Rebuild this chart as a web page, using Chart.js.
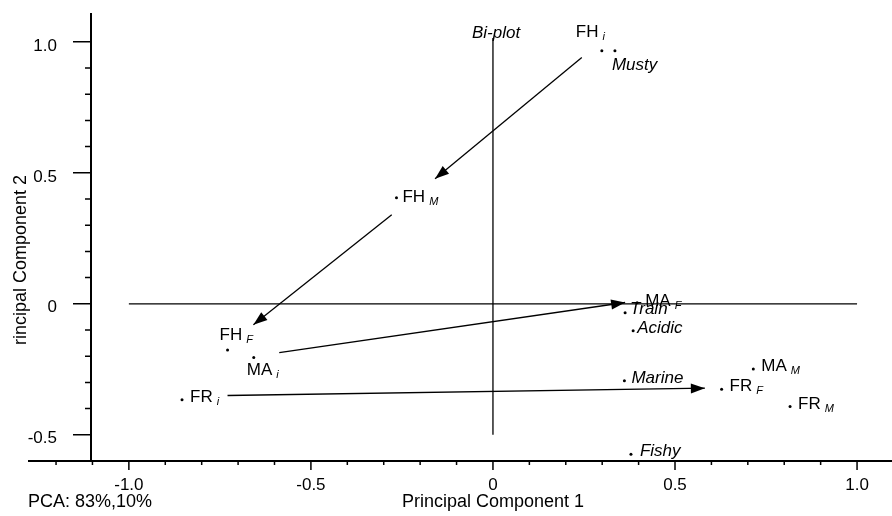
<!DOCTYPE html>
<html>
<head>
<meta charset="utf-8">
<script src="https://cdn.jsdelivr.net/npm/chart.js@4.4.1/dist/chart.umd.min.js"></script>
<style>
  body { margin: 0; background: #fff; }
</style>
</head>
<body>
<canvas id="biplot" width="892" height="516"></canvas>
<script>
// samples (with subscript) and attributes (italic) on PC1 / PC2
const pointNames = ['FH', 'Musty', 'FH', 'FH', 'MA', 'FR', 'MA', 'Train', 'Acidic', 'Marine', 'MA', 'FR', 'FR', 'Fishy'];
const pointSubs  = ['i', '', 'M', 'F', 'i', 'i', 'F', '', '', '', 'M', 'F', 'M', ''];
const pc1 = [0.299, 0.335, -0.265, -0.729, -0.657, -0.854, 0.396, 0.363, 0.385, 0.361, 0.715, 0.628, 0.816, 0.379];
const pc2 = [0.966, 0.966, 0.405, -0.176, -0.205, -0.366, 0.004, -0.034, -0.103, -0.294, -0.249, -0.326, -0.392, -0.574];

// trajectories: start -> arrow tip
const arrowX0 = [0.244, -0.278, -0.587, -0.729];
const arrowY0 = [0.940, 0.340, -0.186, -0.350];
const arrowX1 = [-0.159, -0.658, 0.363, 0.582];
const arrowY1 = [0.477, -0.080, 0.005, -0.322];

// the two bi-plot reference lines
const hLineX = [-1.0, 1.0];
const vLineY = [-0.5, 1.015];

const majorTicks = [-1.0, -0.5, 0, 0.5, 1.0];

// label placement relative to each dot (px): [dx to text start, dy to baseline]
const labelAt = [[-26, -14], [-3, 19], [6, 4], [-8, -10], [-7, 17], [8, 2], [8, 3],
                 [5, 1], [4, 2], [7, 2], [8, 2], [8, 2], [8, 2], [9, 2]];

const FONT = '"Liberation Sans", Arial, sans-serif';

const tickLabel = v => majorTicks.some(m => Math.abs(m - v) < 1e-6)
  ? (Math.abs(v) < 1e-6 ? '0' : v.toFixed(1)) : '';

const lineDs = (pts) => ({
  type: 'line', data: pts, showLine: true, borderColor: '#000', borderWidth: 1.3,
  pointRadius: 0, fill: false, tension: 0
});

const datasets = [
  { data: pc1.map((v, i) => ({ x: v, y: pc2[i] })), pointRadius: 1.5,
    pointBackgroundColor: '#000', pointBorderWidth: 0 },
  lineDs(hLineX.map(v => ({ x: v, y: 0 }))),
  lineDs(vLineY.map(v => ({ x: 0, y: v })))
];
arrowX0.forEach((x0, i) => {
  datasets.push(lineDs([{ x: x0, y: arrowY0[i] }, { x: arrowX1[i], y: arrowY1[i] }]));
});

const noPad = s => { s.paddingTop = 0; s.paddingBottom = 0; s.paddingLeft = 0; s.paddingRight = 0; };

const decor = {
  id: 'decor',
  afterDraw(chart) {
    const { ctx, chartArea: a, scales: { x, y } } = chart;
    ctx.save();
    ctx.strokeStyle = '#000';
    ctx.fillStyle = '#000';

    // axes, x axis runs on past the y axis
    ctx.lineWidth = 2;
    ctx.beginPath();
    ctx.moveTo(28, a.bottom); ctx.lineTo(chart.width, a.bottom);
    ctx.moveTo(a.left, a.top); ctx.lineTo(a.left, a.bottom);
    ctx.stroke();

    // tick marks
    ctx.lineWidth = 1.5;
    ctx.beginPath();
    for (let i = -12; i <= 11; i++) {
      const px = x.getPixelForValue(i / 10);
      const major = i % 5 === 0 && Math.abs(i) <= 10;
      ctx.moveTo(px, a.bottom); ctx.lineTo(px, a.bottom + (major ? 9 : 4));
    }
    for (let i = -5; i <= 10; i++) {
      const py = y.getPixelForValue(i / 10);
      const major = i % 5 === 0;
      ctx.moveTo(a.left, py); ctx.lineTo(a.left - (major ? 18 : 6), py);
    }
    ctx.stroke();

    // arrow heads
    arrowX0.forEach((x0, i) => {
      const sx = x.getPixelForValue(x0), sy = y.getPixelForValue(arrowY0[i]);
      const tx = x.getPixelForValue(arrowX1[i]), ty = y.getPixelForValue(arrowY1[i]);
      const ang = Math.atan2(ty - sy, tx - sx);
      ctx.save();
      ctx.translate(tx, ty);
      ctx.rotate(ang);
      ctx.beginPath();
      ctx.moveTo(0, 0); ctx.lineTo(-14, -5); ctx.lineTo(-14, 5); ctx.closePath();
      ctx.fill();
      ctx.restore();
    });

    // point labels
    ctx.textBaseline = 'alphabetic';
    ctx.textAlign = 'left';
    pointNames.forEach((name, i) => {
      const px = x.getPixelForValue(pc1[i]) + labelAt[i][0];
      const py = y.getPixelForValue(pc2[i]) + labelAt[i][1];
      const sub = pointSubs[i];
      ctx.font = (sub ? '' : 'italic ') + '17px ' + FONT;
      ctx.fillText(name, px, py);
      if (sub) {
        const w = ctx.measureText(name).width;
        ctx.font = 'italic 11px ' + FONT;
        ctx.fillText(sub, px + w + 4, py + 3);
      }
    });

    ctx.font = 'italic 17px ' + FONT;
    ctx.fillText('Bi-plot', x.getPixelForValue(0) - 21, 38);

    // titles
    ctx.font = '18px ' + FONT;
    ctx.fillText('PCA: 83%,10%', 28, 507);
    ctx.textAlign = 'center';
    ctx.fillText('Principal Component 1', x.getPixelForValue(0), 507);
    ctx.translate(26, 260);
    ctx.rotate(-Math.PI / 2);
    ctx.fillText('rincipal Component 2', 0, 0);
    ctx.restore();
  }
};

new Chart(document.getElementById('biplot'), {
  type: 'scatter',
  data: { datasets },
  options: {
    responsive: false,
    animation: false,
    layout: { padding: { top: 13, left: 0, right: 0, bottom: 0 } },
    plugins: { legend: { display: false }, tooltip: { enabled: false } },
    scales: {
      x: {
        min: -1.104, max: 1.085,
        grid: { display: false, drawTicks: false }, border: { display: false },
        ticks: { stepSize: 0.1, includeBounds: false, autoSkip: false, maxRotation: 0, padding: 14,
                 color: '#000', font: { family: FONT, size: 17 }, callback: tickLabel },
        afterFit: s => { s.height = 55; noPad(s); }
      },
      y: {
        min: -0.6, max: 1.11,
        grid: { display: false, drawTicks: false }, border: { display: false },
        ticks: { stepSize: 0.1, includeBounds: false, autoSkip: false, padding: 34, labelOffset: 4,
                 color: '#000', font: { family: FONT, size: 17 }, callback: tickLabel },
        afterFit: s => { s.width = 91; noPad(s); }
      }
    }
  },
  plugins: [decor]
});
</script>
</body>
</html>
